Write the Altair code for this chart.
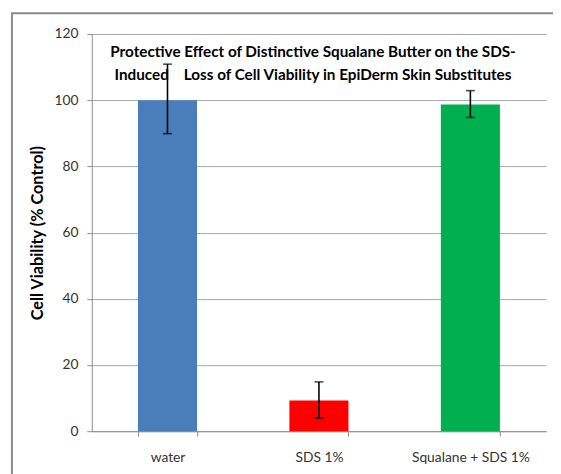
import altair as alt
import pandas as pd

categories = ["water", "SDS 1%", "Squalane + SDS 1%"]
values = [100.0, 9.3, 98.7]
err_low = [89.9, 3.9, 94.8]
err_high = [110.9, 14.9, 102.9]
colors = ["#4A7EBB", "#FF0000", "#00B050"]
y_ticks = [0, 20, 40, 60, 80, 100, 120]
title_lines = [
    "Protective Effect of Distinctive Squalane Butter on the SDS-",
    "Induced\u00a0\u00a0\u00a0 Loss of Cell Viability in EpiDerm Skin Substitutes",
]

df = pd.DataFrame({
    "cat": categories,
    "val": values,
    "lo": err_low,
    "hi": err_high,
    "color": colors,
})

FONT = "Lato"

x_enc = alt.X(
    "cat:N",
    sort=categories,
    scale=alt.Scale(paddingInner=0.61, paddingOuter=0.305),
    axis=alt.Axis(
        title=None,
        labelAngle=0,
        labelFont=FONT,
        labelFontSize=14,
        labelColor="#333333",
        labelPadding=15,
        tickBand="extent",
        tickSize=5,
        tickColor="#8c8c8c",
        domainColor="#8c8c8c",
        grid=False,
    ),
)

bars = alt.Chart(df).mark_bar().encode(
    x=x_enc,
    y=alt.Y(
        "val:Q",
        scale=alt.Scale(domain=[0, 120], nice=False),
        axis=alt.Axis(
            values=y_ticks,
            title="Cell Viability (% Control)",
            titleFont=FONT,
            titleFontSize=16.5,
            titleFontWeight="bold",
            titleColor="#000000",
            titlePadding=9,
            labelFont=FONT,
            labelFontSize=14,
            labelColor="#333333",
            labelPadding=9,
            tickSize=5,
            tickColor="#8c8c8c",
            domainColor="#8c8c8c",
            gridColor="#a6a6a6",
            gridWidth=1,
        ),
    ),
    color=alt.Color("color:N", scale=None),
)

rules = alt.Chart(df).mark_rule(color="black", strokeWidth=1.6).encode(
    x=alt.X("cat:N", sort=categories),
    y="lo:Q",
    y2="hi:Q",
)
cap_lo = alt.Chart(df).mark_tick(color="black", thickness=1.6, size=9, orient="horizontal").encode(
    x=alt.X("cat:N", sort=categories), y="lo:Q"
)
cap_hi = alt.Chart(df).mark_tick(color="black", thickness=1.6, size=9, orient="horizontal").encode(
    x=alt.X("cat:N", sort=categories), y="hi:Q"
)

frame = alt.Chart(pd.DataFrame({"a": [0]})).mark_rect(
    fill=None, stroke="#8a8a8a", strokeWidth=2
).encode(
    x=alt.value(-81), y=alt.value(-21), x2=alt.value(700), y2=alt.value(700)
)

chart = alt.layer(frame, bars, rules, cap_lo, cap_hi).properties(
    width=461,
    height=403,
    autosize=alt.AutoSizeParams(type="none"),
    padding={"left": 85, "top": 23, "right": 7, "bottom": 40},
    title=alt.TitleParams(
        text=title_lines,
        font=FONT,
        fontSize=15.5,
        fontWeight="bold",
        color="#000000",
        anchor="middle",
        baseline="top",
        offset=0,
        dy=72,
        dx=-6,
        lineHeight=23,
    ),
).configure_view(stroke=None)

chart.save("out.html", embed_options={"renderer": "svg", "actions": False})
